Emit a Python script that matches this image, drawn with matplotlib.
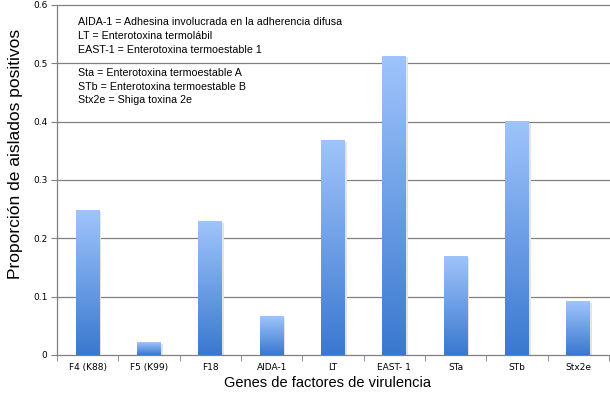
import matplotlib
matplotlib.use("Agg")
import matplotlib.pyplot as plt
import numpy as np
from matplotlib.colors import LinearSegmentedColormap

plt.rcParams['font.family'] = ['Liberation Sans', 'DejaVu Sans']

categories = ["F4 (K88)", "F5 (K99)", "F18", "AIDA-1", "LT", "EAST- 1", "STa", "STb", "Stx2e"]
values = [0.247, 0.021, 0.229, 0.066, 0.367, 0.512, 0.169, 0.400, 0.092]
yticks = [0, 0.1, 0.2, 0.3, 0.4, 0.5, 0.6]
ytick_labels = ["0", "0.1", "0.2", "0.3", "0.4", "0.5", "0.6"]
legend_lines1 = ["AIDA-1 = Adhesina involucrada en la adherencia difusa",
                 "LT = Enterotoxina termolábil",
                 "EAST-1 = Enterotoxina termoestable 1"]
legend_lines2 = ["Sta = Enterotoxina termoestable A",
                 "STb = Enterotoxina termoestable B",
                 "Stx2e = Shiga toxina 2e"]

fig = plt.figure(figsize=(6.1, 3.96), dpi=100)
ax = fig.add_axes([57/610, 41/396, 552/610, 350/396])

x = np.arange(len(categories))
width = 0.39
cmap = LinearSegmentedColormap.from_list("g", ["#3a78cf", "#9fc4fb"])
grad = np.linspace(0, 1, 256).reshape(-1, 1)

for yv in yticks[1:]:
    ax.axhline(yv, color="#808080", lw=0.9, zorder=1, clip_on=False)

bars = ax.bar(x, values, width=width, color="none", edgecolor="none", zorder=3)
for b in bars:
    x0, y0, w, h = b.get_x(), b.get_y(), b.get_width(), b.get_height()
    ax.add_patch(plt.Rectangle((x0 + 0.03, y0), w, h - 0.002, color="#e4e4e4", zorder=2, lw=0))
    ax.imshow(grad, extent=(x0, x0 + w, y0, y0 + h), origin="lower", aspect="auto",
              cmap=cmap, zorder=3)
ax.set_xlim(-0.5, len(categories) - 0.5)
ax.set_ylim(0, 0.6)
ax.set_aspect("auto")

ax.set_yticks(yticks)
ax.set_yticklabels(ytick_labels, fontsize=6.5, family=['DejaVu Sans'])
ax.set_xticks(x)
ax.set_xticklabels(categories, fontsize=6.5, family=['DejaVu Sans'])
ax.set_xticks(np.arange(-0.5, len(categories), 1), minor=True)
ax.tick_params(axis="x", which="major", length=0, pad=6)
ax.tick_params(axis="x", which="minor", length=4, color="#808080", direction="out")
ax.tick_params(axis="y", length=4, color="#808080", direction="out", pad=3)

for s in ["top", "right"]:
    ax.spines[s].set_visible(False)
for s in ["left", "bottom"]:
    ax.spines[s].set_color("#808080")
    ax.spines[s].set_linewidth(0.9)

fig.text(16/610, 1 - 154/396, "Proporción de aislados positivos", fontsize=12.5,
         rotation=90, ha="center", va="center")
fig.text(327/610, 1 - 383/396, "Genes de factores de virulencia", fontsize=10.5,
         ha="center", va="center")

y = 22
for ln in legend_lines1:
    fig.text(78/610, 1 - y/396, ln, fontsize=7.7, va="center", ha="left")
    y += 14
y = 73
for ln in legend_lines2:
    fig.text(78/610, 1 - y/396, ln, fontsize=7.7, va="center", ha="left")
    y += 13.5

fig.savefig("out.png", dpi=100)
